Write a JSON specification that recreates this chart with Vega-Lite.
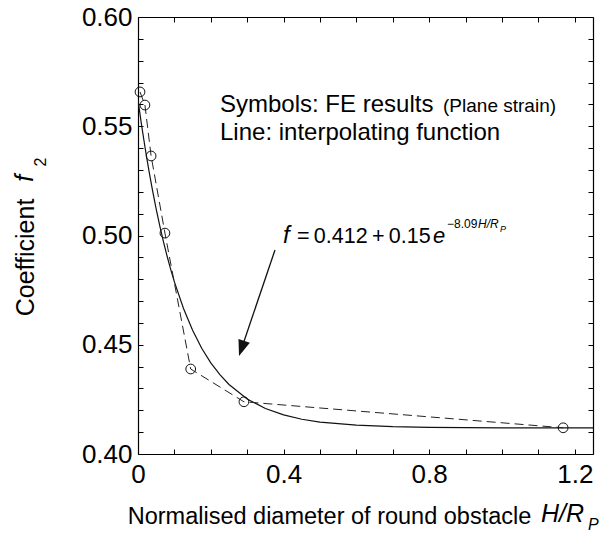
{
  "$schema": "https://vega.github.io/schema/vega-lite/v6.json",
  "width": 455,
  "height": 437,
  "autosize": {"type": "none"},
  "padding": {"left": 138, "top": 17, "right": 12, "bottom": 99},
  "background": "white",
  "config": {
    "font": "Liberation Sans",
    "view": {"stroke": null},
    "axis": {
      "domainColor": "black", "domainWidth": 1.2, "tickColor": "black", "tickWidth": 1,
      "labelColor": "black", "titleColor": "black", "grid": false,
      "labelFont": "Liberation Sans", "titleFont": "Liberation Sans",
      "titleFontWeight": "normal", "labelOverlap": false, "labelFlush": false
    },
    "text": {"font": "Liberation Sans", "color": "black"}
  },
  "datasets": {
    "fe": [
      {"x": 0.0055, "y": 0.5657},
      {"x": 0.019, "y": 0.5597},
      {"x": 0.036, "y": 0.5364},
      {"x": 0.074, "y": 0.5011},
      {"x": 0.1448, "y": 0.4389},
      {"x": 0.291, "y": 0.4239},
      {"x": 1.168, "y": 0.4120}
    ],
    "curve": [
      {"x": 0.0, "y": 0.562},
      {"x": 0.01, "y": 0.5503},
      {"x": 0.02, "y": 0.5396},
      {"x": 0.03, "y": 0.5297},
      {"x": 0.04, "y": 0.5205},
      {"x": 0.05, "y": 0.5121},
      {"x": 0.06, "y": 0.5043},
      {"x": 0.07, "y": 0.4971},
      {"x": 0.08, "y": 0.4905},
      {"x": 0.09, "y": 0.4844},
      {"x": 0.1, "y": 0.4788},
      {"x": 0.125, "y": 0.4666},
      {"x": 0.15, "y": 0.4566},
      {"x": 0.175, "y": 0.4484},
      {"x": 0.2, "y": 0.4417},
      {"x": 0.225, "y": 0.4363},
      {"x": 0.25, "y": 0.4318},
      {"x": 0.3, "y": 0.4252},
      {"x": 0.35, "y": 0.4208},
      {"x": 0.4, "y": 0.4179},
      {"x": 0.45, "y": 0.4159},
      {"x": 0.5, "y": 0.4146},
      {"x": 0.6, "y": 0.4132},
      {"x": 0.7, "y": 0.4125},
      {"x": 0.8, "y": 0.4122},
      {"x": 1.0, "y": 0.4120},
      {"x": 1.25, "y": 0.4120}
    ]
  },
  "resolve": {"axis": {"x": "independent", "y": "independent"}},
  "layer": [
    {
      "data": {"name": "curve"},
      "mark": {"type": "line", "color": "#111", "strokeWidth": 1.2, "clip": true},
      "encoding": {
        "x": {"field": "x", "type": "quantitative",
          "scale": {"domain": [0, 1.25], "nice": false, "zero": false},
          "axis": {"orient": "bottom",
            "values": [0, 0.1, 0.2, 0.3, 0.4, 0.5, 0.6, 0.7, 0.8, 0.9, 1.0, 1.1, 1.2],
            "labelExpr": "indexof([0, 4, 8, 12], round(datum.value * 10)) >= 0 ? (datum.value == 0 ? '0' : format(datum.value, '.1f')) : ''",
            "tickSize": -5, "labelPadding": 12, "labelFontSize": 26,
            "title": "Normalised diameter of round obstacle", "titleFontSize": 23.5,
            "titleX": 191, "titleY": 69, "titleAlign": "center", "titleBaseline": "alphabetic"}},
        "y": {"field": "y", "type": "quantitative",
          "scale": {"domain": [0.4, 0.6], "nice": false, "zero": false},
          "axis": {"orient": "left",
            "values": [0.4, 0.41, 0.42, 0.43, 0.44, 0.45, 0.46, 0.47, 0.48, 0.49, 0.5, 0.51, 0.52, 0.53, 0.54, 0.55, 0.56, 0.57, 0.58, 0.59, 0.6],
            "labelExpr": "round(datum.value * 100) % 5 == 0 ? format(datum.value, '.2f') : ''",
            "tickSize": -5, "labelPadding": 11, "labelFontSize": 26,
            "title": "Coefficient", "titleFontSize": 25, "titleAngle": 270,
            "titleX": -105, "titleY": 240, "titleAlign": "center", "titleBaseline": "alphabetic"}}
      }
    },
    {
      "data": {"name": "fe"},
      "mark": {"type": "line", "color": "#222", "strokeWidth": 1, "strokeDash": [9, 5]},
      "encoding": {
        "x": {"field": "x", "type": "quantitative", "axis": null},
        "y": {"field": "y", "type": "quantitative", "axis": null}
      }
    },
    {
      "data": {"name": "fe"},
      "mark": {"type": "point", "shape": "circle", "size": 95, "filled": false, "stroke": "#111", "strokeWidth": 1, "opacity": 1},
      "encoding": {
        "x": {"field": "x", "type": "quantitative", "axis": null},
        "y": {"field": "y", "type": "quantitative", "axis": null}
      }
    },
    {
      "data": {"values": [{}]},
      "mark": {"type": "rule", "color": "#111", "strokeWidth": 1.3},
      "encoding": {
        "x": {"datum": 0.3764, "type": "quantitative", "axis": null},
        "y": {"datum": 0.4934, "type": "quantitative", "axis": null},
        "x2": {"datum": 0.2846},
        "y2": {"datum": 0.4483}
      }
    },
    {
      "data": {"values": [{}]},
      "mark": {"type": "point", "shape": "M0,1L-0.75,-1L0.75,-1Z", "size": 256, "filled": true, "color": "#111", "opacity": 1, "angle": 18.8},
      "encoding": {
        "x": {"datum": 0.2846, "type": "quantitative", "axis": null},
        "y": {"datum": 0.4483, "type": "quantitative", "axis": null}
      }
    },
    {
      "data": {"values": [{}]},
      "mark": {"type": "text", "text": "Symbols: FE results", "fontSize": 24, "align": "left", "baseline": "alphabetic"},
      "encoding": {
        "x": {"datum": 0.2253, "type": "quantitative", "axis": null},
        "y": {"datum": 0.5565, "type": "quantitative", "axis": null}
      }
    },
    {
      "data": {"values": [{}]},
      "mark": {"type": "text", "text": "(Plane strain)", "fontSize": 19, "align": "left", "baseline": "alphabetic"},
      "encoding": {
        "x": {"datum": 0.8380, "type": "quantitative", "axis": null},
        "y": {"datum": 0.5565, "type": "quantitative", "axis": null}
      }
    },
    {
      "data": {"values": [{}]},
      "mark": {"type": "text", "text": "Line: interpolating function", "fontSize": 24, "align": "left", "baseline": "alphabetic"},
      "encoding": {
        "x": {"datum": 0.2253, "type": "quantitative", "axis": null},
        "y": {"datum": 0.5437, "type": "quantitative", "axis": null}
      }
    },
    {
      "data": {"values": [{}]},
      "mark": {"type": "text", "text": "f", "fontSize": 24, "fontStyle": "italic", "align": "left", "baseline": "alphabetic"},
      "encoding": {
        "x": {"datum": 0.3984, "type": "quantitative", "axis": null},
        "y": {"datum": 0.4966, "type": "quantitative", "axis": null}
      }
    },
    {
      "data": {"values": [{}]},
      "mark": {"type": "text", "text": "=\u20090.412\u2009+\u20090.15", "fontSize": 21.5, "align": "left", "baseline": "alphabetic"},
      "encoding": {
        "x": {"datum": 0.4368, "type": "quantitative", "axis": null},
        "y": {"datum": 0.4966, "type": "quantitative", "axis": null}
      }
    },
    {
      "data": {"values": [{}]},
      "mark": {"type": "text", "text": "e", "fontSize": 22, "fontStyle": "italic", "align": "left", "baseline": "alphabetic"},
      "encoding": {
        "x": {"datum": 0.8104, "type": "quantitative", "axis": null},
        "y": {"datum": 0.4966, "type": "quantitative", "axis": null}
      }
    },
    {
      "data": {"values": [{}]},
      "mark": {"type": "text", "text": "\u22128.09", "fontSize": 12, "align": "left", "baseline": "alphabetic"},
      "encoding": {
        "x": {"datum": 0.849, "type": "quantitative", "axis": null},
        "y": {"datum": 0.5034, "type": "quantitative", "axis": null}
      }
    },
    {
      "data": {"values": [{}]},
      "mark": {"type": "text", "text": "H/R", "fontSize": 12, "fontStyle": "italic", "align": "left", "baseline": "alphabetic"},
      "encoding": {
        "x": {"datum": 0.934, "type": "quantitative", "axis": null},
        "y": {"datum": 0.5034, "type": "quantitative", "axis": null}
      }
    },
    {
      "data": {"values": [{}]},
      "mark": {"type": "text", "text": "P", "fontSize": 9, "fontStyle": "italic", "align": "left", "baseline": "alphabetic"},
      "encoding": {
        "x": {"datum": 0.9945, "type": "quantitative", "axis": null},
        "y": {"datum": 0.5018, "type": "quantitative", "axis": null}
      }
    },
    {
      "data": {"values": [{}]},
      "mark": {"type": "text", "text": "f", "fontSize": 25, "fontStyle": "italic", "angle": 270, "align": "center", "baseline": "alphabetic"},
      "encoding": {
        "x": {"datum": -0.2885, "type": "quantitative", "axis": null},
        "y": {"datum": 0.5262, "type": "quantitative", "axis": null}
      }
    },
    {
      "data": {"values": [{}]},
      "mark": {"type": "text", "text": "2", "fontSize": 16, "angle": 270, "align": "center", "baseline": "alphabetic"},
      "encoding": {
        "x": {"datum": -0.253, "type": "quantitative", "axis": null},
        "y": {"datum": 0.5336, "type": "quantitative", "axis": null}
      }
    },
    {
      "data": {"values": [{}]},
      "mark": {"type": "text", "text": "H/R", "fontSize": 25, "fontStyle": "italic", "align": "left", "baseline": "alphabetic"},
      "encoding": {
        "x": {"datum": 1.107, "type": "quantitative", "axis": null},
        "y": {"datum": 0.3689, "type": "quantitative", "axis": null}
      }
    },
    {
      "data": {"values": [{}]},
      "mark": {"type": "text", "text": "P", "fontSize": 16, "fontStyle": "italic", "align": "left", "baseline": "alphabetic"},
      "encoding": {
        "x": {"datum": 1.236, "type": "quantitative", "axis": null},
        "y": {"datum": 0.3652, "type": "quantitative", "axis": null}
      }
    },
    {
      "data": {"name": "fe"},
      "mark": {"type": "point", "opacity": 0},
      "encoding": {
        "x": {"field": "x", "type": "quantitative",
          "axis": {"orient": "top",
            "values": [0, 0.1, 0.2, 0.3, 0.4, 0.5, 0.6, 0.7, 0.8, 0.9, 1.0, 1.1, 1.2],
            "labels": false, "tickSize": -5, "title": null}},
        "y": {"field": "y", "type": "quantitative",
          "axis": {"orient": "right",
            "values": [0.4, 0.41, 0.42, 0.43, 0.44, 0.45, 0.46, 0.47, 0.48, 0.49, 0.5, 0.51, 0.52, 0.53, 0.54, 0.55, 0.56, 0.57, 0.58, 0.59, 0.6],
            "labels": false, "tickSize": -5, "title": null}}
      }
    }
  ]
}
